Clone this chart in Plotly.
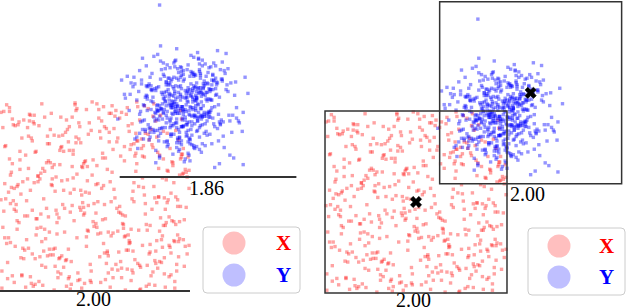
import plotly.graph_objects as go

# ---------------- data (hundredths of a unit) ----------------
RED_X = [-87,12,45,-33,78,-5,-62,91,23,-48,67,-19,3,-94,56,-71,34,88,-27,9,-55,72,-40,15,97,
-13,61,-82,27,-3,49,-66,84,-38,7,-91,39,-24,73,-57,18,95,-10,52,-75,30,-46,83,-1,64,
-29,11,-85,43,76,-52,21,-17,68,-96,36,-8,59,-43,90,-69,14,-35,81,-22,47,-79,5,70,-60,
25,-90,58,-14,86,-37,2,-64,41,-28,93,-50,17,-81,63,-6,32,-73,54,-45,79,-20,10,-98,44,
-32,71,-58,20,-11,85,-77,38,-2,62,-89,28,-42,96,-16,53,-67,8,74,-53,35,-26,89,-84,1,
57,-39,13,-72,80,-9,46,-95,24,-63,69,-30,99,-47,16,-78,42,-4,60,-36,87,-56,29,-18,75,
-92,50,-7,33,-70,92,-25,6,-61,40,-86,65,-12,22,-44,82,-68,37,-99,55,-31,19,-76,48,-15,
77,-54,4,-83,31,-21,66,-49,94,-34,11,-88,51,-1,73,-65,26,-41,84,-23,58,-97,39,-8,61,
-74,17,-51,90,-30,44,-80,3,-59,68,-19,35,-93,78,-45,9,-70,53,-27,86,-12,24,-87,63,-38,
41,-4,79,-62,15,-34,98,-50,28,-79,56,-15,71,-42,7,-95,47,-23,85,-67,32,-10,69,-56,20,
-82,59,-36,2,76,-48,13,-73,92,-29,38,-90,64,-6,50,-64,27,-18,88,-53,5,-85,45,-40,74,
-24,93,-60,18,-33,67,-97,36,-11,81,-71,23,-46,57,-3,89,-77,42,-28,10,-89,70,-55,31,-14,
96,-43,14,-68,48,-20,83,-58,1,-92,60,-37,25,-75,77,-9,43,-63,16,-31,91,-49,34,-84,52,
-17,72,-39,8,-96,65,-26,99,-52,21,-78,46,-2,80,-66,29,-44,12,-86,55,-21,94,-57,37,-7,
63,-35,6,-69,87,-47,19,-91,40,-13,75,-81,33,-54,4,-25,82,-61,49,-16,97,-72,26,-41,68,
-5,51,-94,30,-59,85,-32,11,-76,62,-22,39,-88,71,-50,17,-65,93,-37,3,-80,58,-27,44,-99,
78,-11,24,-56,89,-43,66,-7,35,-83,13,-60,52,-30,95,-19,41,-74,6,-47,73,-90,28,-15,84,
-68,54,-35,1,-87,61,-24,47,-62,18,-98,76,-40,31,-9,90,-53,22,-79,65,-45,10,-71,83,-28,
38,-14,87,-63,9,-93,50,-38,72,-4,27,-85,57,-20,99,-48,15,-66,43,-33,80,-77,36,-12,64,
-57,2,-42,91,-26,45,-70,19,-95,67,-16,32,-82,74,-51,8,-36,88,-64,53,-23,14,-89,40,-8]

RED_Y = [34,-71,58,6,-22,-89,47,81,-13,-56,29,92,-40,-3,65,18,-77,-48,73,11,-94,39,-28,57,-61,
-7,84,-35,-69,22,50,-15,-97,63,8,-44,76,31,-82,-19,95,-53,4,41,-66,-30,87,14,-8,-58,
70,-24,-91,45,27,-75,-2,60,-37,89,-50,16,-84,33,-11,79,-63,52,-26,7,-99,38,68,-46,21,
-17,93,-59,1,-72,48,-33,85,-6,-87,24,55,-42,12,-68,77,-21,43,-95,30,-54,62,-9,-79,99,
-38,19,-64,71,36,-1,-83,54,-27,10,-49,88,-74,25,-12,66,-92,40,-31,83,-57,3,-45,74,-18,
59,-86,28,-5,-60,91,-36,13,-78,46,-23,80,-52,35,-96,2,-67,69,-14,51,-41,97,-29,-81,17,
-70,42,-10,86,-55,23,-93,61,-34,5,75,-47,-20,90,-62,32,-85,49,-4,-73,67,-39,15,-98,56,
26,-58,82,-16,-43,98,-76,37,-25,64,-88,9,53,-32,-65,78,-11,20,-90,44,-51,72,-3,31,-80,
-57,87,-13,39,-95,58,-28,-6,74,-69,23,-41,96,-85,11,-50,63,-19,48,-79,34,-37,81,-2,-66,
14,-91,50,-24,67,-9,41,-63,-86,28,92,-15,-54,5,79,-44,-73,19,-30,61,-99,37,85,-48,7,
-26,70,-82,32,-7,55,-60,-96,44,17,-35,89,-71,3,-52,76,-18,-89,59,26,-64,8,94,-40,-14,
83,-46,21,-77,47,-1,-33,68,-92,36,-21,57,12,-61,99,-27,-84,42,-56,73,-8,-70,29,52,-97,
-12,64,-38,6,-75,90,-47,18,-29,-87,54,33,-59,80,-4,-43,66,-93,15,-68,41,-22,93,-53,1,
77,-31,-80,45,-16,62,-98,27,-45,84,-65,10,38,-83,58,-20,-56,71,-5,-36,96,-74,24,-49,65,
-94,16,-39,86,-11,-62,49,4,-81,30,-28,75,-57,-3,91,-69,35,-24,60,-88,20,-46,82,-15,43,
-72,9,53,-34,-90,69,-13,40,-55,97,-26,-78,25,-42,63,-6,-95,50,-65,13,78,-31,-85,34,88,
-52,-18,61,-73,22,-99,46,-37,74,-9,-58,15,95,-67,28,-44,55,-21,-91,70,-2,39,-76,6,-48,
85,-30,-63,12,-84,51,-10,80,-41,25,-97,66,-19,37,-53,90,-35,-72,47,-7,18,-60,72,-27,57,
-89,31,-4,-66,94,-50,19,-23,68,-79,42,-14,-93,56,8,-38,87,-61,26,-75,3,61,-47,-12,79,
-33,97,-55,44,-17,-71,29,-86,52,-1,73,-42,10,-96,35,-25,83,-64,14,-8,48,-81,22,-58,-36]

# Y cloud: offsets from its centre
BLUE_CENTER = [0.94, 0.98]
BLUE_DX = [5,-12,23,-3,17,-28,8,-19,34,-7,1,14,-41,10,-22,29,-15,4,-9,38,-31,12,-2,19,-26,
-6,21,-14,46,-35,3,-18,9,27,-11,-49,16,-4,32,-23,7,-1,13,-37,25,-8,52,-17,2,11,
-29,18,-5,40,-13,6,-44,22,-10,15,-20,35,-3,-58,8,24,-16,1,30,-27,13,-7,44,-12,20,
-33,4,17,-21,9,-46,28,-2,61,-15,11,-25,36,-9,3,-39,19,-6,14,-30,26,-18,0,48,-11,
7,-24,31,-4,-52,16,-13,23,-36,10,2,-19,42,-8,27,-28,5,-14,18,-62,33,-1,12,-43,21,
-10,39,-22,6,-7,15,-32,55,-16,9,-26,3,24,-40,-5,29,-12,17,-21,1,37,-34,8,-3,20,
26,-17,-9,50,-29,13,-4,34,-47,11,-14,22,-1,-38,16,7,-23,43,-11,4,-66,19,-6,31,-25,
-2,14,-35,28,-8,57,-20,5,-13,25,-31,10,-45,18,-3,38,-16,2,-27,12,47,-9,23,-54,6,
-19,33,-7,15,-42,21,-11,3,-28,40,-15,9,-5,64,-24,17,-36,1,26,-10,-50,30,-2,13,-18,
10,-30,19,-4,45,-14,7,-39,24,-21,2,-8,36,-26,14,-57,11,-1,21,-33,6,29,-12,-44,17,
-23,4,41,-16,8,-35,27,-6,-60,12,-19,32,-9,18,3,-47,22,-13,53,-3,9,-29,15,-38,25,
-5,20,-25,11,-14,35,-41,6,-2,28,-18,49,-10,16,-32,0,23,-7,-53,13,-20,37,-11,5,-27,
31,-1,-15,19,-43,9,24,-8,-34,14,-22,58,-4,26,-17,2,-48,12,-12,40,-26,7,30,-37,18,
-9,16,-31,3,22,-19,-6,44,-28,10,-13,-70,33,-3,15,-24,27,-40,8,-15,51,-21,1,20,-35,
4,-36,13,-10,38,-23,17,-5,-45,29,-1,11,-30,62,-16,6,-20,24,-8,34,-42,14,-27,3,9,
-14,27,-3,-56,18,-11,5,46,-22,12,-33,21,-7,-39,16,1,-25,39,-18,8,-2,-50,25,-12,32,
22,-8,15,-29,-4,41,-20,10,-37,6,28,-15,-1,19,-44,13,-26,54,-9,4,-32,17,-14,36,-6,
-24,9,-47,30,-2,16,-19,67,-11,23,-36,2,12,-28,7,-41,20,-5,31,-17,-63,14,-10,26,-3,
13,-18,35,-7,-27,8,48,-13,21,-39,4,-22,17,-1,-52,29,-9,11,-31,42,-16,6,-24,19,-4,
-12,24,-34,2,15,-46,10,-6,37,-21,18,-14,-3,55,-30,7,-19,27,-8,-40,12,33,-25,5,-15,
-26,62]

BLUE_DY = [-8,17,4,-25,31,-2,-14,22,9,-37,13,-19,6,28,-11,-43,19,1,-6,35,-29,8,-16,45,-3,
24,-10,-33,12,2,-21,40,-7,-15,27,-48,11,18,-4,-26,33,-12,5,-39,20,-1,-58,14,-9,30,
-17,7,-31,23,-5,-13,47,-22,10,-2,36,-27,15,-8,-44,21,3,-18,29,-35,6,-11,52,-24,16,
1,-41,26,-7,13,-20,38,-4,-30,9,-15,60,-12,18,-34,4,-23,32,-1,-50,15,-9,25,-19,7,
-28,11,42,-6,20,-36,2,-14,27,-45,10,-3,34,-21,14,-8,-55,23,-13,5,39,-25,17,-2,-32,
12,-18,30,-38,6,-10,49,-16,21,-5,-27,35,-11,8,-42,19,1,-24,28,-7,-64,13,-20,37,-3,
-15,26,-4,-31,16,-46,9,22,-12,3,-35,41,-9,18,-26,7,-17,31,-1,-53,24,-14,11,-22,44,
6,-29,14,-8,57,-19,2,-37,25,-10,15,-47,20,-6,33,-23,10,-2,-40,29,-13,4,-30,17,-61,
-21,8,36,-15,-3,23,-33,12,-9,43,-18,1,-49,27,-7,16,-26,5,-12,38,-36,14,-4,21,-16,
30,-11,-43,3,19,-24,50,-8,-19,11,-31,26,-2,-58,15,9,-22,34,-14,6,-39,24,-5,-28,13,
-1,40,-20,7,-34,18,-10,-51,28,-6,12,-25,45,-17,2,-32,20,-11,8,-44,32,-3,16,-23,4,
-36,9,25,-13,-5,55,-28,14,-18,3,-41,21,-9,35,-15,-62,11,-4,27,-30,7,-20,42,-12,17,
23,-7,-26,10,-38,15,2,-47,31,-16,5,-21,38,-9,19,-35,12,-3,-54,25,-14,8,30,-27,1,
-11,33,-19,6,-45,22,-8,14,-29,48,-2,-17,26,-40,10,-6,-33,18,-24,37,-13,4,-59,20,-7,
16,-31,3,44,-22,9,-14,-37,24,-5,30,-48,13,-10,-1,28,-26,11,-42,19,-18,53,-8,-23,6,
-33,12,-4,21,-52,15,-20,36,-10,2,-28,18,-39,7,41,-15,-6,25,-46,11,-25,3,32,-12,-68,
8,-17,46,-7,27,-35,1,-13,20,-43,14,-3,-24,39,-19,5,-56,22,-9,13,-31,29,-2,-40,17,
-27,4,34,-16,-8,-49,19,10,-22,28,-36,6,-14,51,-5,-30,15,-11,24,-44,9,-19,1,37,-25,
12,-40,21,-3,-18,31,-55,8,-12,17,-29,42,-6,23,-38,3,-21,16,-10,-47,26,-4,35,-15,7,
-2,-34,14,-23,47,-9,18,-28,6,-41,11,-16,29,-5,-63,20,-13,4,-26,39,-8,15,-32,10,-20,
103,-65]

# boxes / spans (units)
RED_BOX = [-1.0, -1.0, 1.0, 1.0]          # x0, y0, x1, y1
BLUE_BOX = [0.26, 0.20, 2.26, 2.20]
SPAN_VALUES = [2.00, 1.86]
LEGEND_LABELS = ["X", "Y"]

W, H = 626, 308
RED_PT = "rgba(255,0,0,0.36)"
BLUE_PT = "rgba(0,0,255,0.42)"
LINE = "#333333"
SERIF = "Liberation Serif, DejaVu Serif, serif"

rx = [v / 100 for v in RED_X]
ry = [v / 100 for v in RED_Y]
n = min(len(rx), len(ry))
rx, ry = rx[:n], ry[:n]
bx = [BLUE_CENTER[0] + v / 100 for v in BLUE_DX]
by = [BLUE_CENTER[1] + v / 100 for v in BLUE_DY]
m = min(len(bx), len(by))
bx, by = bx[:m], by[:m]

fig = go.Figure()
for xa, ya in (("x", "y"), ("x2", "y2")):
    fig.add_trace(go.Scatter(x=rx, y=ry, mode="markers", xaxis=xa, yaxis=ya,
                             marker=dict(symbol="square", size=3.4, color=RED_PT, line=dict(width=0)),
                             showlegend=False, hoverinfo="skip"))
    fig.add_trace(go.Scatter(x=bx, y=by, mode="markers", xaxis=xa, yaxis=ya,
                             marker=dict(symbol="square", size=3.4, color=BLUE_PT, line=dict(width=0)),
                             showlegend=False, hoverinfo="skip"))

# box centres (crosses) on the right panel
cx = [(RED_BOX[0] + RED_BOX[2]) / 2, (BLUE_BOX[0] + BLUE_BOX[2]) / 2]
cy = [(RED_BOX[1] + RED_BOX[3]) / 2, (BLUE_BOX[1] + BLUE_BOX[3]) / 2]
fig.add_trace(go.Scatter(x=cx, y=cy, mode="markers", xaxis="x2", yaxis="y2",
                         marker=dict(symbol="x", size=10, color="black", line=dict(width=0.5, color="black")),
                         showlegend=False, hoverinfo="skip"))

shapes = []
annotations = []
# left panel: spans
span_red = (RED_BOX[0], RED_BOX[0] + SPAN_VALUES[0], RED_BOX[1])
span_blue = (BLUE_BOX[0], BLUE_BOX[0] + SPAN_VALUES[1], BLUE_BOX[1])
for (x0, x1, yy), val, off in ((span_red, SPAN_VALUES[0], 0.085), (span_blue, SPAN_VALUES[1], 0.115)):
    shapes.append(dict(type="line", xref="x", yref="y", x0=x0, x1=x1, y0=yy, y1=yy,
                       line=dict(color=LINE, width=2), layer="above"))
    annotations.append(dict(xref="x", yref="y", x=(x0 + x1) / 2 - 0.02, y=yy - off,
                            text=f"{val:.2f}", showarrow=False, yanchor="middle",
                            font=dict(family=SERIF, size=20, color="black")))
# right panel: boxes
for box, off in ((RED_BOX, 0.075), (BLUE_BOX, 0.11)):
    shapes.append(dict(type="rect", xref="x2", yref="y2", x0=box[0], y0=box[1], x1=box[2], y1=box[3],
                       line=dict(color=LINE, width=1.5), layer="above"))
    annotations.append(dict(xref="x2", yref="y2", x=(box[0] + box[2]) / 2 - 0.03, y=box[1] - off,
                            text=f"{box[2] - box[0]:.2f}", showarrow=False, yanchor="middle",
                            font=dict(family=SERIF, size=20, color="black")))

def P(x, y):
    return x / W, 1 - y / H

def rounded_rect(x0, y0, x1, y1, r):
    a, b = P(x0, y0); c, d = P(x1, y1)
    rx_, ry_ = r / W, r / H
    return (f"M {a+rx_},{b} L {c-rx_},{b} Q {c},{b} {c},{b-ry_} L {c},{d+ry_} Q {c},{d} {c-rx_},{d} "
            f"L {a+rx_},{d} Q {a},{d} {a},{d+ry_} L {a},{b-ry_} Q {a},{b} {a+rx_},{b} Z")

LEG = [  # box (px), circle centre x, text x, row y's
    dict(box=(203, 227, 300, 293), cxp=234, tx=283, rows=(243, 275)),
    dict(box=(528, 228, 625, 295), cxp=559, tx=606, rows=(246, 277)),
]
leg_fill = ["rgba(255,0,0,0.25)", "rgba(0,0,255,0.25)"]
leg_text = ["red", "blue"]
for L in LEG:
    x0, y0, x1, y1 = L["box"]
    shapes.append(dict(type="path", xref="paper", yref="paper", path=rounded_rect(x0, y0, x1, y1, 4),
                       fillcolor="rgba(255,255,255,0.8)", line=dict(color="#cccccc", width=1), layer="above"))
    for i, ry_ in enumerate(L["rows"]):
        a, b = P(L["cxp"] - 11.5, ry_ - 11.5)
        c, d = P(L["cxp"] + 11.5, ry_ + 11.5)
        shapes.append(dict(type="circle", xref="paper", yref="paper", x0=a, x1=c, y0=d, y1=b,
                           fillcolor=leg_fill[i], line=dict(width=0), layer="above"))
        tx, ty = P(L["tx"], ry_)
        annotations.append(dict(xref="paper", yref="paper", x=tx, y=ty, text=f"<b>{LEGEND_LABELS[i]}</b>",
                                showarrow=False, xanchor="center", yanchor="middle",
                                font=dict(family=SERIF, size=21, color=leg_text[i])))

ax = dict(visible=False, showgrid=False, zeroline=False, fixedrange=True)
fig.update_layout(
    width=W, height=H, margin=dict(l=0, r=0, t=0, b=0),
    paper_bgcolor="white", plot_bgcolor="white",
    xaxis=dict(ax, domain=[0, 313 / W], range=[-1.0, 2.295]),
    yaxis=dict(ax, domain=[0, 1], range=[-1.179, 2.063]),
    xaxis2=dict(ax, domain=[313 / W, 1], range=[-1.132, 2.308]),
    yaxis2=dict(ax, domain=[0, 1], range=[-1.165, 2.22]),
    shapes=shapes, annotations=annotations, showlegend=False,
)
fig.write_html("out.html", config=dict(displayModeBar=False),
               post_script="document.body.style.margin='0';document.body.style.overflow='hidden';")
